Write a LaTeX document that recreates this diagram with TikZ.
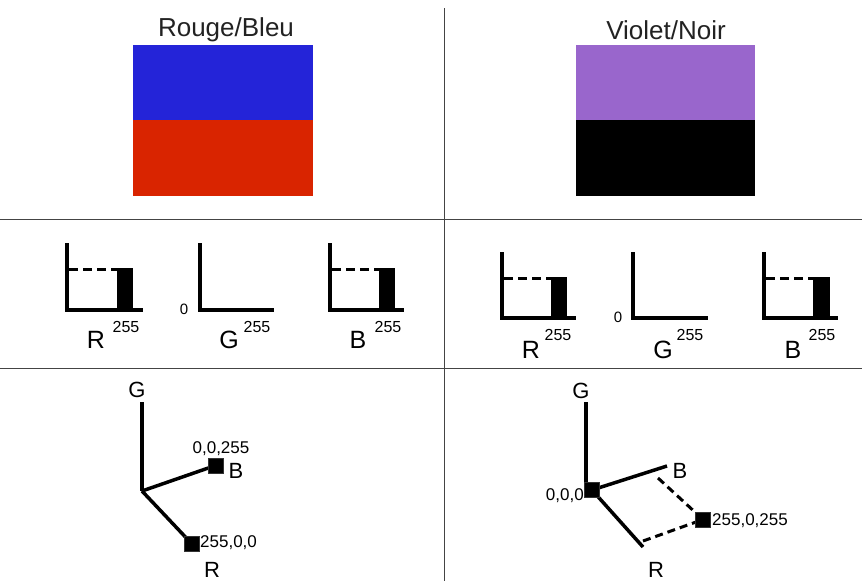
\documentclass[tikz,border=0pt]{standalone}
\usepackage{fontspec}
\setmainfont{Liberation Sans}
\definecolor{cblue}{HTML}{2424D8}
\definecolor{cred}{HTML}{D92400}
\definecolor{cviolet}{HTML}{9966CC}
\definecolor{divider}{HTML}{444444}
\definecolor{txt}{HTML}{222222}
\begin{document}
\begin{tikzpicture}[x=1pt,y=-1pt,
  divline/.style={draw=divider,line width=1pt},
  title/.style={font=\fontsize{26}{29}\selectfont,text=txt,inner sep=0pt},
  hax/.style={line width=4pt,line cap=rect},
  hdash/.style={line width=3pt,dash pattern=on 9pt off 5pt},
  hlab/.style={font=\fontsize{25}{28}\selectfont,inner sep=0pt},
  hsup/.style={font=\fontsize{16}{18}\selectfont,inner sep=0pt},
  hzero/.style={font=\fontsize{15}{17}\selectfont,inner sep=0pt},
  axl/.style={line width=3.5pt},
  axlab/.style={font=\fontsize{22}{25}\selectfont,inner sep=0pt},
  small/.style={font=\fontsize{17}{19}\selectfont,inner sep=0pt},
  sq/.style={fill=black,draw=black!80,line width=0.6pt,minimum size=15pt,inner sep=0pt},
  cdash/.style={line width=3pt,dash pattern=on 8pt off 5pt}]
\useasboundingbox (0,0) rectangle (862,581);
% dividers
\coordinate (vt) at (444,8);
\coordinate (vb) at (444,581);
\coordinate (h1l) at (0,219); \coordinate (h1r) at (862,219);
\coordinate (h2l) at (0,368); \coordinate (h2r) at (862,368);
\draw[divline] (vt) -- (vb);
\draw[divline] (h1l) -- (h1r);
\draw[divline] (h2l) -- (h2r);
% swatches
\node[title] (t1) at (226,30) {Rouge/Bleu};
\node[title] (t2) at (666,30) {Violet/Noir};
\fill[cblue] (133,45) rectangle (313,120);
\fill[cred] (133,120) rectangle (313,196);
\fill[cviolet] (576,45) rectangle (755,120);
\fill[black] (576,120) rectangle (755,196);
% histograms left
\draw[hdash] (69,269) -- (118,269);
\fill (117,267.5) rectangle (133,310);
\draw[hax] (67,245) -- (67,310) -- (141,310);
\node[hlab] (lr) at (96,340) {R};
\node[hsup] (lr5) at (126,327) {255};
\draw[hax] (200,245) -- (200,310) -- (272,310);
\node[hzero] (lg0) at (184,309) {0};
\node[hlab] (lg) at (229,340) {G};
\node[hsup] (lg5) at (257,327) {255};
\draw[hdash] (332,269) -- (380,269);
\fill (379,267.5) rectangle (395,310);
\draw[hax] (330,245) -- (330,310) -- (402,310);
\node[hlab] (lb) at (358,340) {B};
\node[hsup] (lb5) at (388,327) {255};
% histograms right
\draw[hdash] (504,278) -- (552,278);
\fill (551,276.5) rectangle (567,318);
\draw[hax] (502,254) -- (502,318) -- (574,318);
\node[hlab] (rr) at (531,350) {R};
\node[hsup] (rr5) at (558,335) {255};
\draw[hax] (633,254) -- (633,318) -- (706,318);
\node[hzero] (rg0) at (618,317) {0};
\node[hlab] (rg) at (663,350) {G};
\node[hsup] (rg5) at (690,335) {255};
\draw[hdash] (766,278) -- (814,278);
\fill (813,276.5) rectangle (830,318);
\draw[hax] (764,254) -- (764,318) -- (836,318);
\node[hlab] (rb) at (793,350) {B};
\node[hsup] (rb5) at (822,335) {255};
% 3D left
\coordinate (o1) at (142,491);
\coordinate (g1) at (142,402);
\node[sq] (b1) at (215.5,465.5) {};
\node[sq] (r1) at (192,544) {};
\draw[axl] (g1) -- (o1);
\draw[axl] (o1) -- (b1.center);
\draw[axl] (o1) -- (r1.center);
\node[sq] at (b1) {};
\node[sq] at (r1) {};
\node[axlab] (g1l) at (137,390) {G};
\node[axlab] (b1l) at (236,471) {B};
\node[axlab] (r1l) at (212,570) {R};
\node[small] (b1v) at (221,449) {0,0,255};
\node[small,anchor=west] (r1v) at (200,543) {255,0,0};
% 3D right
\coordinate (g2) at (586,402);
\coordinate (g2o) at (586,490);
\coordinate (b2) at (667,466);
\coordinate (r2) at (643,547);
\coordinate (b2d) at (658,478);
\coordinate (r2d) at (643,541);
\node[sq] (o2) at (592,490) {};
\node[sq] (p2) at (703,519.5) {};
\draw[axl] (g2) -- (g2o);
\draw[axl] (o2.center) -- (b2);
\draw[axl] (o2.center) -- (r2);
\draw[cdash] (b2d) -- (p2.center);
\draw[cdash] (r2d) -- (p2.center);
\node[sq] at (o2) {};
\node[sq] at (p2) {};
\node[axlab] (g2l) at (581,391) {G};
\node[axlab] (b2l) at (680,471) {B};
\node[axlab] (r2l) at (656,570) {R};
\node[small,anchor=east] (o2v) at (584,496) {0,0,0};
\node[small,anchor=west] (p2v) at (712,521) {255,0,255};
\end{tikzpicture}
\end{document}
